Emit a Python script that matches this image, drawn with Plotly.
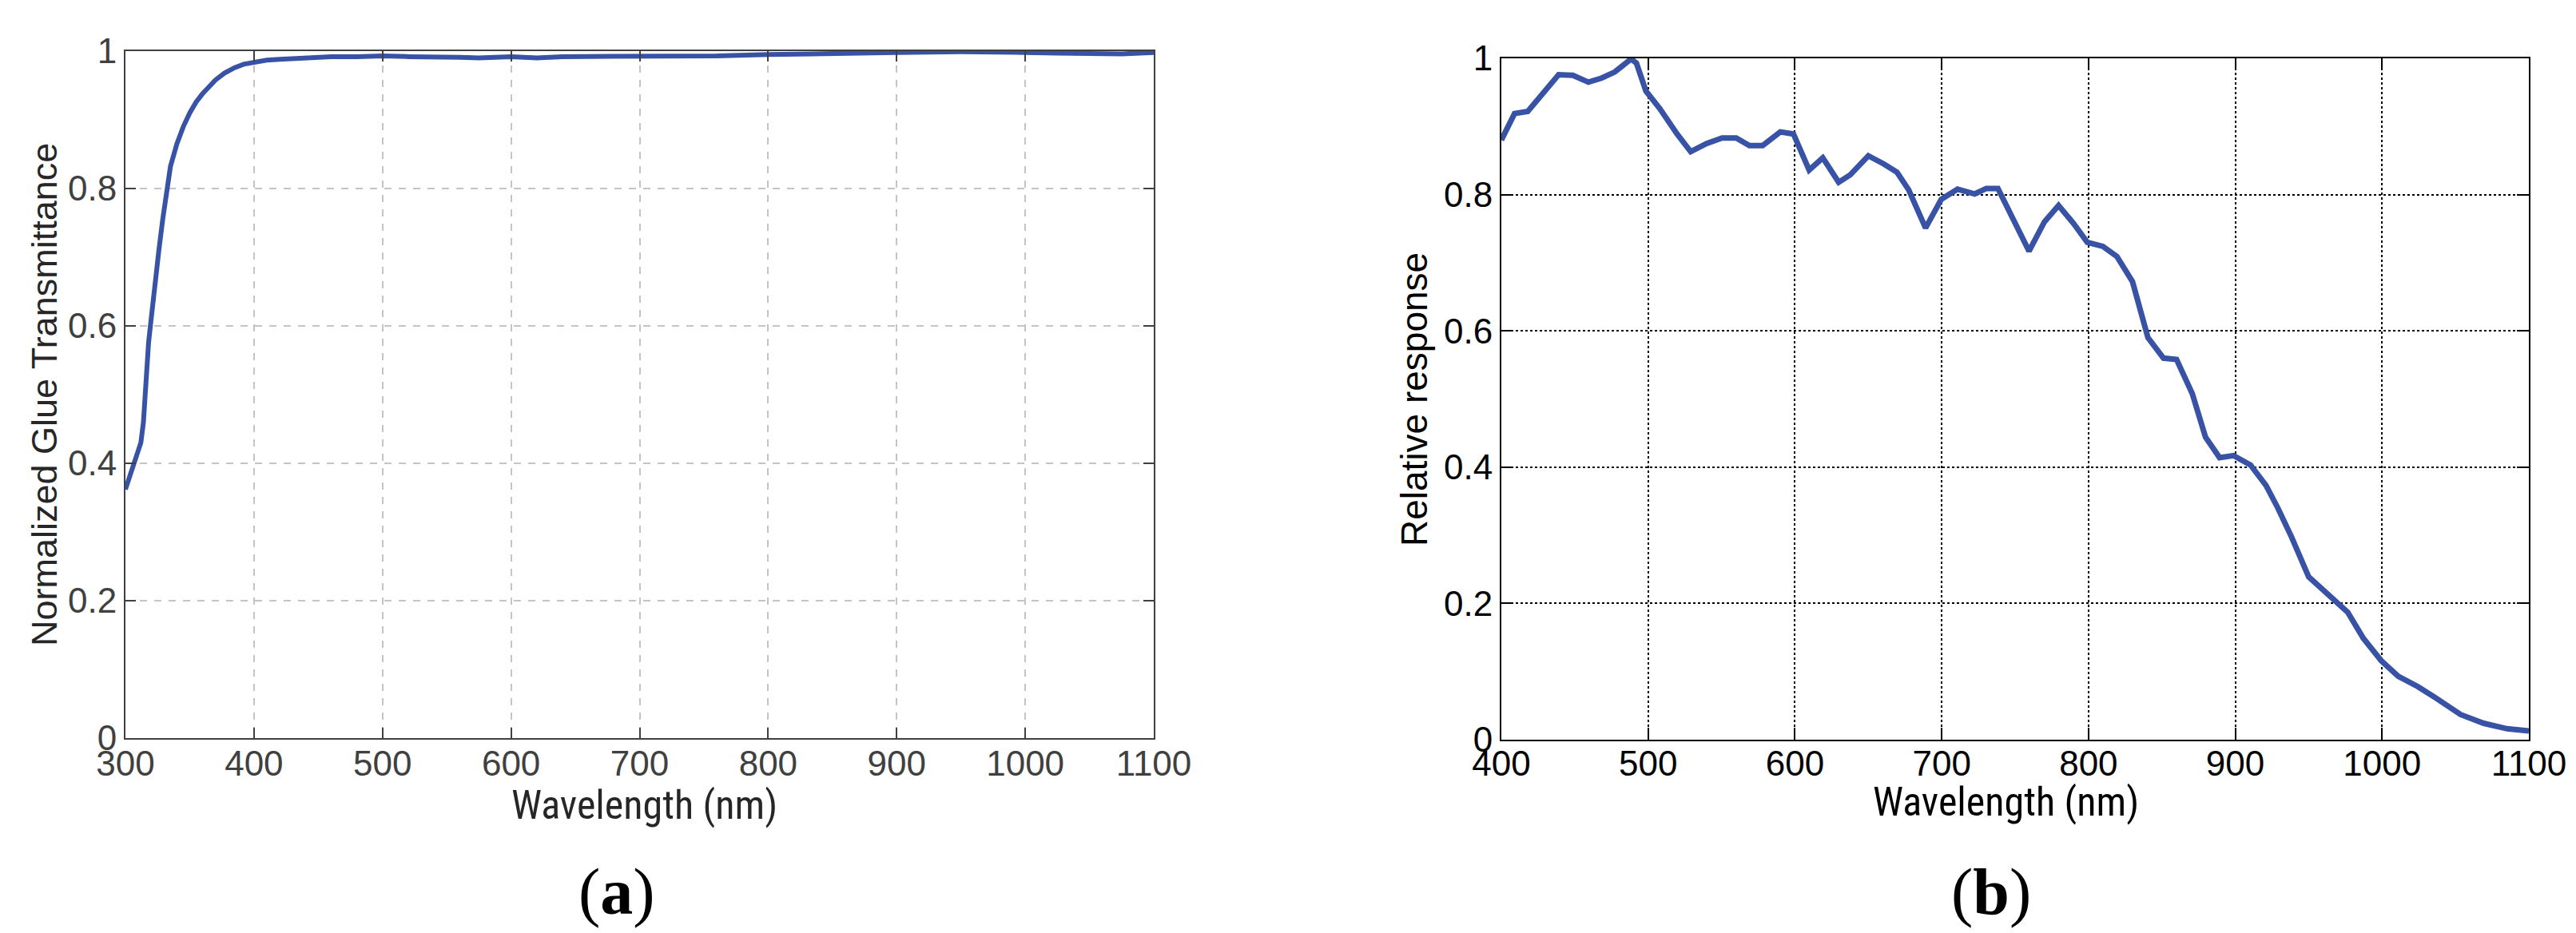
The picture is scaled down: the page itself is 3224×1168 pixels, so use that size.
import plotly.graph_objects as go

# (a) glue transmittance
wl_glue = [300, 305, 310, 312, 314, 316, 318, 320, 323, 326, 329, 332, 335, 340, 345,
           350, 355, 360, 365, 370, 377, 385, 392, 400, 410, 420, 440, 460, 480, 500,
           520, 540, 560, 575, 590, 600, 610, 620, 640, 660, 700, 760, 800, 850, 900,
           950, 975, 1000, 1025, 1050, 1075, 1100]
transmittance = [0.362, 0.39, 0.415, 0.43, 0.46, 0.52, 0.576, 0.61, 0.665, 0.71, 0.755,
                 0.795, 0.832, 0.865, 0.89, 0.91, 0.926, 0.938, 0.949, 0.958, 0.968,
                 0.976, 0.981, 0.984, 0.987, 0.988, 0.99, 0.992, 0.992, 0.993, 0.992,
                 0.992, 0.991, 0.990, 0.992, 0.992, 0.991, 0.990, 0.992, 0.992, 0.993,
                 0.993, 0.995, 0.997, 0.998, 0.999, 0.999, 0.998, 0.997, 0.996, 0.996,
                 0.998]

# (b) sensor relative response
wl_resp = [400, 409, 418, 428.6, 439, 448.7, 459.3, 468.3, 477.3, 488.4, 492, 498.5,
           508, 519.7, 529, 539.8, 550.4, 560, 569, 578, 590, 599, 609.7, 619, 629.8,
           637.7, 650, 660.5, 669.5, 677.5, 689, 699.7, 710.8, 722.5, 730.4, 738.3,
           748.9, 759.5, 770, 779.6, 789.7, 799.2, 809.8, 819.4, 830, 836.3, 840.5,
           851.1, 860, 870.7, 879.7, 889.3, 898.8, 910.4, 921, 929, 938, 950, 963.4,
           976.6, 987.2, 999.4, 1011, 1024.3, 1037.5, 1053.4, 1069.3, 1085.2, 1100]
response = [0.880, 0.919, 0.922, 0.950, 0.976, 0.975, 0.965, 0.971, 0.980, 0.999, 0.993,
            0.952, 0.926, 0.889, 0.863, 0.875, 0.883, 0.883, 0.872, 0.872, 0.892, 0.889,
            0.836, 0.854, 0.818, 0.829, 0.857, 0.845, 0.833, 0.807, 0.751, 0.793, 0.808,
            0.801, 0.809, 0.809, 0.762, 0.717, 0.760, 0.784, 0.758, 0.730, 0.724, 0.709,
            0.672, 0.620, 0.590, 0.560, 0.558, 0.508, 0.444, 0.414, 0.417, 0.403, 0.373,
            0.340, 0.299, 0.239, 0.213, 0.187, 0.149, 0.116, 0.093, 0.078, 0.060, 0.037,
            0.024, 0.016, 0.013]

x_ticks_a = [300, 400, 500, 600, 700, 800, 900, 1000, 1100]
x_ticks_b = [400, 500, 600, 700, 800, 900, 1000, 1100]
y_ticks = [0, 0.2, 0.4, 0.6, 0.8, 1]

W, H = 3224, 1168
BLUE = "#3853a6"
SANS = "Liberation Sans, Arial, sans-serif"
NARROW = "Liberation Sans Narrow, Arial Narrow, Roboto Condensed, sans-serif"
SERIF = "Liberation Serif, Times New Roman, serif"

fig = go.Figure()
fig.add_trace(go.Scatter(x=wl_glue, y=transmittance, mode="lines",
                         line=dict(color=BLUE, width=6), xaxis="x", yaxis="y"))
fig.add_trace(go.Scatter(x=wl_resp, y=response, mode="lines",
                         line=dict(color=BLUE, width=7), xaxis="x2", yaxis="y2"))

def axis_style(color, gridcolor, dash, ticklen):
    return dict(showline=True, linecolor=color, linewidth=2, mirror="ticks",
                ticks="inside", ticklen=ticklen, tickwidth=2, tickcolor=color,
                showgrid=True, gridcolor=gridcolor, griddash=dash, gridwidth=2,
                zeroline=False, automargin=False,
                tickfont=dict(family=SANS, size=44, color=color))

left = axis_style("#404040", "#c4c4c4", "dash", 13)
right = axis_style("#000000", "#000000", "dot", 15)

fig.update_layout(
    template="none",
    width=W, height=H,
    margin=dict(l=0, r=0, t=0, b=0),
    paper_bgcolor="white", plot_bgcolor="white",
    showlegend=False,
    xaxis=dict(domain=[149 / W, 1436 / W], range=[300, 1100], tickvals=x_ticks_a,
               anchor="y", ticklabelstandoff=-8, **left),
    yaxis=dict(domain=[1 - 916 / H, 1 - 56 / H], range=[0, 1], tickvals=y_ticks,
               anchor="x", **left),
    xaxis2=dict(domain=[1871 / W, 3157 / W], range=[400, 1100], tickvals=x_ticks_b,
                anchor="y2", ticklabelstandoff=-10, **right),
    yaxis2=dict(domain=[1 - 918 / H, 1 - 65 / H], range=[0, 1], tickvals=y_ticks,
                anchor="x2", **right),
)

def label(text, x, y, size, color, family=SANS, angle=0):
    fig.add_annotation(text=text, x=x / W, y=1 - y / H, xref="paper", yref="paper",
                       showarrow=False, textangle=angle, xanchor="center",
                       yanchor="middle", font=dict(family=family, size=size, color=color))

label("Wavelength (nm)", 798, 1000, 50, "#262626", family=NARROW)
label("Normalized Glue Transmittance", 48, 486, 45, "#262626", angle=-90)
label("Wavelength (nm)", 2502, 996, 50, "#000000", family=NARROW)
label("Relative response", 1762, 492, 46, "#000000", angle=-90)
label("(<b>a</b>)", 764, 1108, 82, "#000000", family=SERIF)
label("(<b>b</b>)", 2484, 1108, 82, "#000000", family=SERIF)

fig.write_html("out.html")
